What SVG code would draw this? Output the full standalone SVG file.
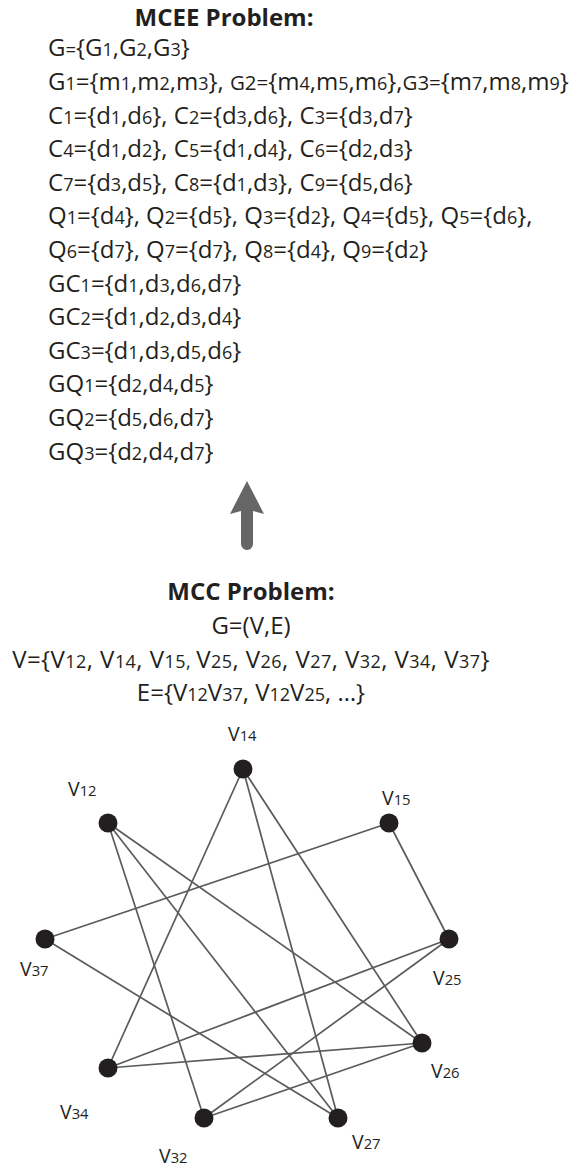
<svg xmlns="http://www.w3.org/2000/svg" width="575" height="1168" viewBox="0 0 575 1168">
  <style>
    text{font-family:"Open Sans","Liberation Sans",sans-serif;fill:#231f20}
    .t{font-size:24px}
    .s{font-size:18px}
    .m{font-size:18.5px}
    .m2{font-size:20.5px}
    .wide{letter-spacing:0.45px}
    .h{font-size:24px;font-weight:bold}
    .lbl{font-size:19.5px}
    .lbl .s{font-size:14.8px}
    .edge{stroke:#5b5b5b;stroke-width:1.7;fill:none}
    .dot{fill:#231f20}
    .arrow{fill:#666666}
  </style>

  <!-- MCEE problem statement -->
  <g id="mcee">
    <text class="h" x="224" y="26" text-anchor="middle">MCEE Problem:</text>
    <text class="t" x="48" y="56.4">G<tspan class="m">=</tspan>{G<tspan class="s">1</tspan>,G<tspan class="s">2</tspan>,G<tspan class="s">3</tspan>}</text>
    <text class="t" x="48" y="90">G<tspan class="s">1</tspan>={m<tspan class="s">1</tspan>,m<tspan class="s">2</tspan>,m<tspan class="s">3</tspan>}, <tspan class="m2">G2=</tspan>{m<tspan class="s">4</tspan>,m<tspan class="s">5</tspan>,m<tspan class="s">6</tspan>},<tspan class="m2">G3=</tspan>{m<tspan class="s">7</tspan>,m<tspan class="s">8</tspan>,m<tspan class="s">9</tspan>}</text>
    <text class="t" x="48" y="123.6">C<tspan class="s">1</tspan>={d<tspan class="s">1</tspan>,d<tspan class="s">6</tspan>}, C<tspan class="s">2</tspan>={d<tspan class="s">3</tspan>,d<tspan class="s">6</tspan>}, C<tspan class="s">3</tspan>={d<tspan class="s">3</tspan>,d<tspan class="s">7</tspan>}</text>
    <text class="t" x="48" y="157.2">C<tspan class="s">4</tspan>={d<tspan class="s">1</tspan>,d<tspan class="s">2</tspan>}, C<tspan class="s">5</tspan>={d<tspan class="s">1</tspan>,d<tspan class="s">4</tspan>}, C<tspan class="s">6</tspan>={d<tspan class="s">2</tspan>,d<tspan class="s">3</tspan>}</text>
    <text class="t" x="48" y="190.8">C<tspan class="s">7</tspan>={d<tspan class="s">3</tspan>,d<tspan class="s">5</tspan>}, C<tspan class="s">8</tspan>={d<tspan class="s">1</tspan>,d<tspan class="s">3</tspan>}, C<tspan class="s">9</tspan>={d<tspan class="s">5</tspan>,d<tspan class="s">6</tspan>}</text>
    <text class="t" x="48" y="224.4">Q<tspan class="s">1</tspan>={d<tspan class="s">4</tspan>}, Q<tspan class="s">2</tspan>={d<tspan class="s">5</tspan>}, Q<tspan class="s">3</tspan>={d<tspan class="s">2</tspan>}, Q<tspan class="s">4</tspan>={d<tspan class="s">5</tspan>}, Q<tspan class="s">5</tspan>={d<tspan class="s">6</tspan>},</text>
    <text class="t" x="48" y="258">Q<tspan class="s">6</tspan>={d<tspan class="s">7</tspan>}, Q<tspan class="s">7</tspan>={d<tspan class="s">7</tspan>}, Q<tspan class="s">8</tspan>={d<tspan class="s">4</tspan>}, Q<tspan class="s">9</tspan>={d<tspan class="s">2</tspan>}</text>
    <text class="t" x="48" y="291.6">GC<tspan class="s">1</tspan>={d<tspan class="s">1</tspan>,d<tspan class="s">3</tspan>,d<tspan class="s">6</tspan>,d<tspan class="s">7</tspan>}</text>
    <text class="t" x="48" y="325.2">GC<tspan class="s">2</tspan>={d<tspan class="s">1</tspan>,d<tspan class="s">2</tspan>,d<tspan class="s">3</tspan>,d<tspan class="s">4</tspan>}</text>
    <text class="t" x="48" y="358.8">GC<tspan class="s">3</tspan>={d<tspan class="s">1</tspan>,d<tspan class="s">3</tspan>,d<tspan class="s">5</tspan>,d<tspan class="s">6</tspan>}</text>
    <text class="t" x="48" y="392.4">GQ<tspan class="s">1</tspan>={d<tspan class="s">2</tspan>,d<tspan class="s">4</tspan>,d<tspan class="s">5</tspan>}</text>
    <text class="t" x="48" y="426">GQ<tspan class="s">2</tspan>={d<tspan class="s">5</tspan>,d<tspan class="s">6</tspan>,d<tspan class="s">7</tspan>}</text>
    <text class="t" x="48" y="459.6">GQ<tspan class="s">3</tspan>={d<tspan class="s">2</tspan>,d<tspan class="s">4</tspan>,d<tspan class="s">7</tspan>}</text>
  </g>

  <!-- reduction arrow -->
  <path id="reduce-arrow" class="arrow" d="M247,481 L264,514 L253,511 L253,544 A6,6 0 0 1 241,544 L241,511 L230,514 Z"/>

  <!-- MCC problem statement -->
  <g id="mcc">
    <text class="h" x="251" y="600" text-anchor="middle">MCC Problem:</text>
    <text class="t" x="251" y="634" text-anchor="middle">G=(V,E)</text>
    <text class="t wide" x="251" y="668" text-anchor="middle">V={V<tspan class="s">12</tspan>, V<tspan class="s">14</tspan>, V<tspan class="s">15, </tspan>V<tspan class="s">25</tspan>, V<tspan class="s">26</tspan>, V<tspan class="s">27</tspan>, V<tspan class="s">32</tspan>, V<tspan class="s">34</tspan>, V<tspan class="s">37</tspan>}</text>
    <text class="t" x="251" y="701" text-anchor="middle">E={V<tspan class="s">12</tspan>V<tspan class="s">37</tspan>, V<tspan class="s">12</tspan>V<tspan class="s">25</tspan>, …}</text>
  </g>

  <!-- graph edges -->
  <g id="edges">
    <line class="edge" x1="108" y1="823" x2="422" y2="1043"/>
    <line class="edge" x1="108" y1="823" x2="338" y2="1118"/>
    <line class="edge" x1="108" y1="823" x2="204" y2="1118"/>
    <line class="edge" x1="243" y1="769" x2="108" y2="1068"/>
    <line class="edge" x1="243" y1="769" x2="338" y2="1118"/>
    <line class="edge" x1="243" y1="769" x2="422" y2="1043"/>
    <line class="edge" x1="389" y1="823" x2="45" y2="939"/>
    <line class="edge" x1="389" y1="823" x2="449" y2="939"/>
    <line class="edge" x1="45" y1="939" x2="338" y2="1118"/>
    <line class="edge" x1="449" y1="939" x2="108" y2="1068"/>
    <line class="edge" x1="449" y1="939" x2="204" y2="1118"/>
    <line class="edge" x1="422" y1="1043" x2="108" y2="1068"/>
    <line class="edge" x1="422" y1="1043" x2="204" y2="1118"/>
  </g>

  <!-- graph vertices -->
  <g id="v14"><circle class="dot" cx="243" cy="769" r="9.5"/><text class="lbl" x="228" y="741">V<tspan class="s">14</tspan></text></g>
  <g id="v12"><circle class="dot" cx="108" cy="823" r="9.5"/><text class="lbl" x="68" y="796">V<tspan class="s">12</tspan></text></g>
  <g id="v15"><circle class="dot" cx="389" cy="823" r="9.5"/><text class="lbl" x="382" y="805">V<tspan class="s">15</tspan></text></g>
  <g id="v37"><circle class="dot" cx="45" cy="939" r="9.5"/><text class="lbl" x="20" y="976">V<tspan class="s">37</tspan></text></g>
  <g id="v25"><circle class="dot" cx="449" cy="939" r="9.5"/><text class="lbl" x="433" y="985">V<tspan class="s">25</tspan></text></g>
  <g id="v26"><circle class="dot" cx="422" cy="1043" r="9.5"/><text class="lbl" x="431" y="1078">V<tspan class="s">26</tspan></text></g>
  <g id="v34"><circle class="dot" cx="108" cy="1068" r="9.5"/><text class="lbl" x="60" y="1119">V<tspan class="s">34</tspan></text></g>
  <g id="v32"><circle class="dot" cx="204" cy="1118" r="9.5"/><text class="lbl" x="159" y="1163">V<tspan class="s">32</tspan></text></g>
  <g id="v27"><circle class="dot" cx="338" cy="1118" r="9.5"/><text class="lbl" x="352" y="1149">V<tspan class="s">27</tspan></text></g>
</svg>
